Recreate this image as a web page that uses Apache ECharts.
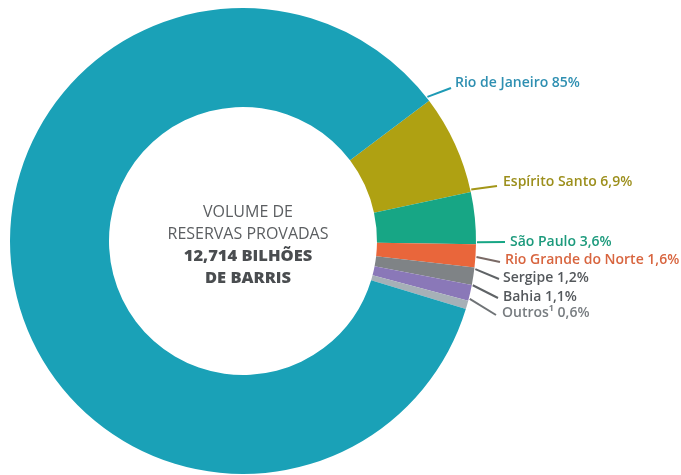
<!DOCTYPE html>
<html>
<head>
<meta charset="utf-8">
<script src="https://cdn.jsdelivr.net/npm/echarts@6/dist/echarts.min.js"></script>
<style>
  html, body { margin: 0; padding: 0; background: #ffffff; }
  #chart { width: 681px; height: 475px; }
</style>
</head>
<body>
<div id="chart"></div>
<script>
// Proved oil reserves by state, share of total (%), in clockwise order from the top-right
const regions = ['Espírito Santo', 'São Paulo', 'Rio Grande do Norte', 'Sergipe', 'Bahia', 'Outros¹', 'Rio de Janeiro'];
const shares = [6.9, 3.6, 1.6, 1.2, 1.1, 0.6, 85];
const centerLines = ['VOLUME DE', 'RESERVAS PROVADAS', '12,714 BILHÕES', 'DE BARRIS'];

// Ring geometry
const CX = 243, CY = 241, R_IN = 134, R_OUT = 233, START = 37;

// Styling per slice
const sliceColors = ['#AFA112', '#17A685', '#E9663B', '#7F8386', '#8A78B8', '#A6B0B7', '#1AA1B7'];
const textColors  = ['#9C8F1C', '#1C9A7C', '#D8653F', '#54585c', '#54585c', '#787d81', '#2E8FB1'];
const lineColors  = ['#A39618', '#17A685', '#7a6a66', '#5f6366', '#5f6366', '#6f7376', '#1E9AB5'];
// Label anchor (left edge, vertical middle) for each slice label
const labelAnchors = [[503, 182], [510, 242], [505, 260], [503, 278], [503, 297], [502, 313], [455, 83]];
// Leader lines: angle (deg) on the outer rim where each line leaves the ring, and its end point
const lineStartAngles = [12.7, -0.3, -3.9, -6.9, -10.9, -14.3, 38];
const lineEnds = [[497, 186], [505, 242], [500, 262], [499, 279], [498, 298], [496, 315], [451, 88]];

const fmt = v => String(v).replace('.', ',') + '%';
const rimPoint = deg => {
  const a = deg * Math.PI / 180;
  return [CX + (R_OUT + 1) * Math.cos(a), CY - (R_OUT + 1) * Math.sin(a)];
};

const chart = echarts.init(document.getElementById('chart'), null, { renderer: 'canvas' });

chart.setOption({
  backgroundColor: '#ffffff',
  animation: false,
  title: {
    text: '{r|' + centerLines[0] + '}\n{r|' + centerLines[1] + '}\n{b|' + centerLines[2] + '}\n{b|' + centerLines[3] + '}',
    left: CX,
    top: 196,
    textAlign: 'center',
    textStyle: {
      rich: {
        r: { fontFamily: 'Open Sans', fontSize: 16, fontWeight: 'normal', color: '#5b5e61', lineHeight: 22, align: 'center' },
        b: { fontFamily: 'Open Sans', fontSize: 16.5, fontWeight: 900, color: '#4a4d50', lineHeight: 22, align: 'center' }
      }
    }
  },
  series: [{
    type: 'pie',
    center: [CX, CY],
    radius: [R_IN, R_OUT],
    startAngle: START,
    clockwise: true,
    avoidLabelOverlap: false,
    silent: true,
    data: regions.map((name, i) => ({
      name: name,
      value: shares[i],
      itemStyle: { color: sliceColors[i] },
      label: { color: textColors[i] },
      labelLine: { lineStyle: { color: lineColors[i] } }
    })),
    label: {
      show: true,
      position: 'outside',
      formatter: p => p.name + ' ' + fmt(p.value),
      fontFamily: 'Open Sans',
      fontSize: 14,
      fontWeight: 600
    },
    labelLine: {
      show: true,
      length: 10,
      length2: 0,
      smooth: false,
      lineStyle: { width: 2 }
    },
    labelLayout: function (params) {
      const i = params.dataIndex;
      const a = labelAnchors[i];
      return {
        x: a[0],
        y: a[1],
        align: 'left',
        verticalAlign: 'middle',
        labelLinePoints: [rimPoint(lineStartAngles[i]), lineEnds[i], lineEnds[i]]
      };
    }
  }]
});
</script>
</body>
</html>
